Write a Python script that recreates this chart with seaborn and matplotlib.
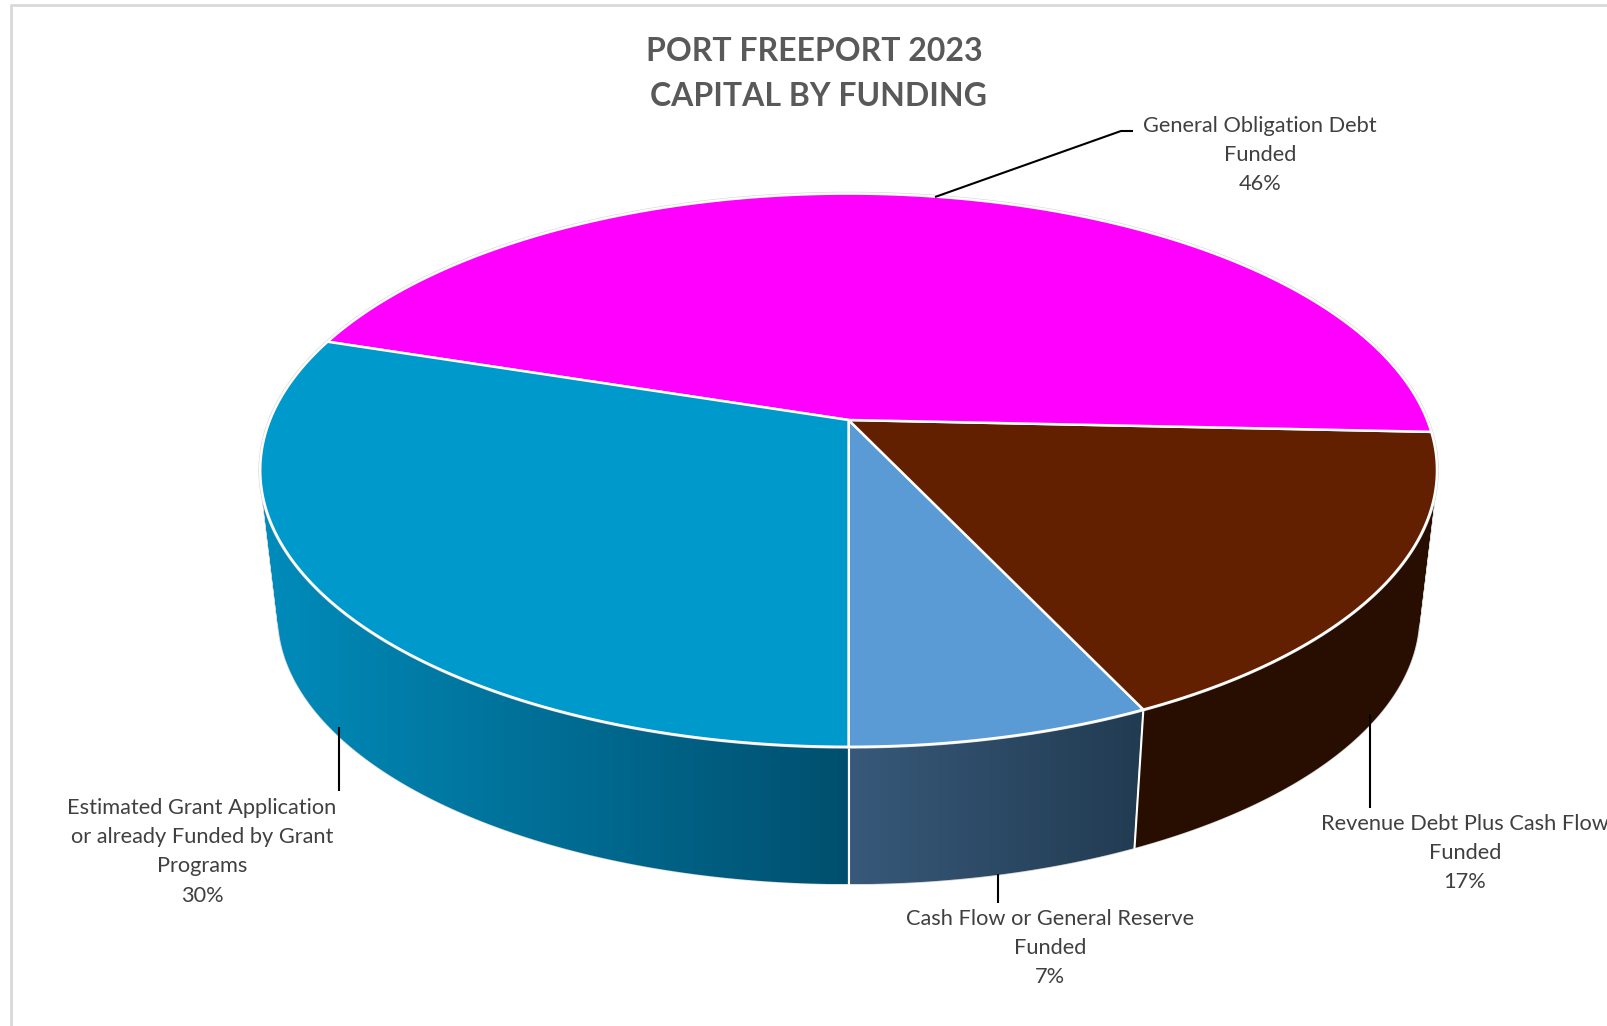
import numpy as np
import seaborn as sns
import matplotlib.pyplot as plt
from matplotlib.patches import Polygon, PathPatch
from matplotlib.path import Path

# values in pie order, going round from the front of the pie to the right
categories = ['Cash Flow or General Reserve\nFunded',
              'Revenue Debt Plus Cash Flow\nFunded',
              'General Obligation Debt\nFunded',
              'Estimated Grant Application\nor already Funded by Grant\nPrograms']
values = [7.0, 17.3, 45.7, 30.0]

top_colors = ['#5B9BD5', '#632000', '#FF00FF', '#0099CC']
side_colors = [('#38597A', '#213B51'), ('#280E00', '#280E00'),
               ('#990099', '#990099'), ('#008CBB', '#004F6E')]

# picture layout, in pixels
label_x = [1050, 1465, 1260, 202]
label_y = [919, 824, 126, 808]
leaders = [[(998, 874), (998, 903)],
           [(1370, 714), (1370, 808)],
           [(935, 197), (1121, 131), (1133, 131)],
           [(339, 727), (339, 791)]]

sns.set_theme(style='white')
plt.rcParams['font.family'] = ['Lato', 'DejaVu Sans']

CX, CY = 848.6, 420.0
A, B, P = 578.6, 267.5, -0.1815
SHRINK, VANISH_Y = 0.97, 5325.0


def top_point(theta):
    u, v = np.sin(theta), np.cos(theta)
    w = 1 + P * v
    return CX + A * u / w, CY + B * v / w


def bottom_point(theta):
    x, y = top_point(theta)
    return CX + SHRINK * (x - CX), VANISH_Y + SHRINK * (y - VANISH_Y)


def wall_path(t):
    # small quads, all the same way round, so the fold at the pie's silhouette stays filled
    tx, ty = top_point(t)
    bx, by = bottom_point(t)
    verts, codes = [], []
    for k in range(len(t) - 1):
        q = np.array([(tx[k], ty[k]), (tx[k + 1], ty[k + 1]),
                      (bx[k + 1], by[k + 1]), (bx[k], by[k])])
        area = np.sum(q[:, 0] * np.roll(q[:, 1], -1) - np.roll(q[:, 0], -1) * q[:, 1])
        if area < 0:
            q = q[::-1]
        verts += list(q) + [q[0]]
        codes += [Path.MOVETO, Path.LINETO, Path.LINETO, Path.LINETO, Path.CLOSEPOLY]
    return Path(np.array(verts), codes)


fig, ax = plt.subplots(figsize=(16.07, 10.26), dpi=100)
fig.subplots_adjust(0, 0, 1, 1)
ax.set_xlim(0, 1607)
ax.set_ylim(1026, 0)
ax.axis('off')

# chart frame, only its top and left edges are in the crop
ax.plot([11, 11, 1607], [1026, 5, 5], color='#D9D9D9', lw=2, zorder=1)

fracs = np.array(values) / sum(values)
edges = np.concatenate([[0], np.cumsum(fracs)]) * 2 * np.pi

# sides first, the back slice before the front ones, the top disc hides the rest
for order, i in enumerate([2, 3, 0, 1]):
    t = np.linspace(edges[i], edges[i + 1], 240)
    tx, ty = top_point(t)
    bx, by = bottom_point(t)
    z = 2 + order * 0.1
    path = wall_path(t)
    ext = path.get_extents()
    # thin light rim under the wall, as on the outer edge of the reference
    ax.add_patch(PathPatch(path, fc='#DDDDDD', ec='#DDDDDD', lw=1, zorder=z))
    clip = PathPatch(path, fc='none', ec='none', zorder=z)
    ax.add_patch(clip)
    cmap = sns.blend_palette(side_colors[i], n_colors=128, as_cmap=True)
    img = ax.imshow(np.linspace(0, 1, 256)[None, :], cmap=cmap, aspect='auto',
                    extent=(ext.x0, ext.x1, ext.y1, ext.y0), zorder=z + 0.01)
    img.set_clip_path(clip)
    if i != 2:
        ax.plot([tx[0], bx[0]], [ty[0], by[0]], color='white', lw=1.5, zorder=3)
ax.set_xlim(0, 1607)
ax.set_ylim(1026, 0)

# top of the pie
ring = np.linspace(0, 2 * np.pi, 720)
ax.plot(*top_point(ring), color='#D4D4D4', lw=2.6, zorder=4)
for i in range(len(values)):
    t = np.linspace(edges[i], edges[i + 1], 200)
    tx, ty = top_point(t)
    xy = np.column_stack([np.r_[CX, tx], np.r_[CY, ty]])
    ax.add_patch(Polygon(xy, closed=True, fc=top_colors[i], ec='white', lw=1.8,
                         joinstyle='round', zorder=5))

# leader lines and data labels
for i in range(len(values)):
    pts = np.array(leaders[i])
    ax.plot(pts[:, 0], pts[:, 1], color='black', lw=1.5, zorder=6, solid_capstyle='butt')
    lines = categories[i].split('\n') + [f'{values[i]:.0f}%']
    for j, line in enumerate(lines):
        ax.text(label_x[i], label_y[i] + j * 29.2, line, ha='center', va='center',
                fontsize=15.7, color='#404040', zorder=7)

ax.text(814, 51.5, 'PORT FREEPORT 2023', ha='center', va='center', fontsize=23,
        fontweight='bold', color='#595959')
ax.text(818, 96, 'CAPITAL BY FUNDING', ha='center', va='center', fontsize=23,
        fontweight='bold', color='#595959')

plt.savefig('out.png', dpi=100)
